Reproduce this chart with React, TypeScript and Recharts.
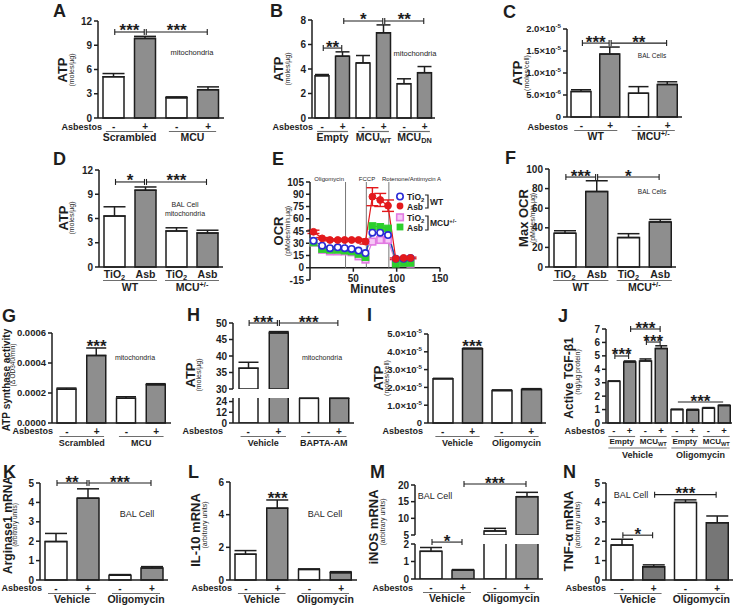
import React from "react";
import { BarChart, Bar, XAxis, YAxis, ErrorBar, Cell, ReferenceLine, ReferenceDot, LineChart, Line } from "recharts";

const FONT = '"Liberation Sans", Arial, sans-serif';
const INK = "#1e1e1e";
const GRAY = "#8e8e8e";
const RULE = "#6e6e6e";
const PAD_L = 64;
const PAD_T = 16;
const PAD_R = 16;
const PAD_B = 48;

// shared x labels
const signs = ["-", "+", "-", "+"];
const signs6 = ["-", "+", "-", "+", "-", "+"];
const signs8 = ["-", "+", "-", "+", "-", "+", "-", "+"];
const particles = ["TiO_{2}", "Asb", "TiO_{2}", "Asb"];
const shGroups = ["Scrambled", "MCU"];
const vectorGroups = ["Empty", "MCU_{WT}", "MCU_{DN}"];
const mouseGroups = ["WT", "MCU^{+/-}"];
const baptaGroups = ["Vehicle", "BAPTA-AM"];
const oligoGroups = ["Vehicle", "Oligomycin"];
const tgfVectors = ["Empty", "MCU_{WT}", "Empty", "MCU_{WT}"];

// A
const atpShMito = [5.1, 9.85, 2.5, 3.5];
const atpShMitoErr = [0.4, 0.25, 0.12, 0.35];
// B
const atpVectorMito = [3.45, 5.05, 4.5, 6.95, 2.8, 3.7];
const atpVectorMitoErr = [0.1, 0.35, 0.6, 0.65, 0.4, 0.5];
// C
const atpBal = [5.8e-6, 1.43e-5, 5.4e-6, 7.4e-6];
const atpBalErr = [0.4e-6, 1.6e-6, 1.5e-6, 0.6e-6];
// D
const atpBalMito = [6.3, 9.5, 4.45, 4.2];
const atpBalMitoErr = [1.15, 0.4, 0.4, 0.35];
// E
const minutes = [4, 14, 23, 32, 40, 48, 56, 64, 72, 81, 90, 99, 108, 116];
const ocrWtTio2 = [33, 27, 24, 25, 24, 23, 21, 18, 43, 43, 40, 11, 11, 12];
const ocrWtAsb = [44, 36, 34, 34, 34, 34, 34, 32, 87, 83, 76, 11, 12, 12];
const ocrWtAsbErr = [2, 1, 1, 1, 1, 1, 1, 3, 11, 8, 7, 1, 1, 1];
const ocrMcuTio2 = [31, 22, 20, 20, 20, 19, 14, 10, 32, 34, 34, 6, 6, 5];
const ocrMcuAsb = [31, 23, 22, 22, 21, 20, 17, 13, 51, 50, 48, 5, 6, 6];
const injections = [41, 65, 91];
// F
const maxOcr = [34.5, 77, 30, 46];
const maxOcrErr = [2.5, 11, 4, 2.5];
// G
const atpSynthase = [0.000225, 0.00045, 0.000165, 0.000255];
const atpSynthaseErr = [0.000008, 0.00005, 0.00001, 0.000007];
// H
const atpBapta = [36.3, 47, 27.6, 27.6];
const atpBaptaErr = [1.8, 0.4, 0.2, 0.2];
// I
const atpOligo = [2.48e-5, 4.17e-5, 1.82e-5, 1.88e-5];
const atpOligoErr = [0.03e-5, 0.04e-5, 0.04e-5, 0.05e-5];
// J
const tgfb1 = [3.1, 4.55, 4.62, 5.55, 1.0, 0.97, 1.1, 1.3];
const tgfb1Err = [0.03, 0.07, 0.15, 0.2, 0.02, 0.05, 0.05, 0.03];
// K-N
const arg1 = [1.98, 4.22, 0.25, 0.62];
const arg1Err = [0.42, 0.48, 0.03, 0.07];
const il10 = [1.58, 4.4, 0.65, 0.45];
const il10Err = [0.22, 0.5, 0.03, 0.06];
const inos = [1.58, 0.5, 6.2, 16.5];
const inosErr = [0.22, 0.04, 0.8, 1.3];
const tnfa = [1.8, 0.68, 4.0, 2.95];
const tnfaErr = [0.3, 0.1, 0.13, 0.35];

function rich(s: string, fs: number) {
  const parts = s.split(/([_^]\{[^}]*\})/).filter((x) => x.length > 0);
  let shift = 0;
  return parts.map((part, k) => {
    const m = /^([_^])\{(.*)\}$/.exec(part);
    if (m) {
      const target = m[1] === "_" ? fs * 0.28 : -fs * 0.34;
      const dy = target - shift;
      shift = target;
      return <tspan key={k} dy={dy} fontSize={fs * 0.7}>{m[2]}</tspan>;
    }
    const dy = -shift;
    shift = 0;
    return <tspan key={k} dy={dy}>{part}</tspan>;
  });
}

const plain = (v: number) => String(v);
const fixed4 = (v: number) => v.toFixed(4);
function sci(v: number, fs: number) {
  if (v === 0) return "0";
  const e = Math.floor(Math.log10(v) + 1e-9);
  const m = (v / Math.pow(10, e)).toFixed(1);
  return [
    <tspan key="m">{m + "×10"}</tspan>,
    <tspan key="e" dy={-fs * 0.42} fontSize={fs * 0.65}>{e}</tspan>,
  ];
}

function bracketShape(stars: string, ends: boolean) {
  return (p: any) => {
    const a = Math.min(p.x1, p.x2) + 1;
    const c = Math.max(p.x1, p.x2) - 1;
    const y = p.y1;
    return (
      <g>
        <line x1={a} x2={c} y1={y} y2={y} stroke={INK} strokeWidth={1.1} />
        {ends && <line x1={a} x2={a} y1={y - 3} y2={y + 3} stroke={INK} strokeWidth={1.1} />}
        {ends && <line x1={c} x2={c} y1={y - 3} y2={y + 3} stroke={INK} strokeWidth={1.1} />}
        <text x={(a + c) / 2} y={y + 4.5} textAnchor="middle" fontSize={17} fontWeight="bold" fill={INK}>
          {stars}
        </text>
      </g>
    );
  };
}

function starShape(text: string) {
  return (p: any) => (
    <text x={p.cx} y={p.cy + 4} textAnchor="middle" fontSize={17} fontWeight="bold" fill={INK}>
      {text}
    </text>
  );
}

function pairTick(box: number[], n: number, labels: string[], groups: string[], o: { named?: boolean; gfs?: number; half?: number } = {}) {
  const band = (box[1] - box[0]) / n;
  const base = PAD_T + box[3] - box[2];
  const lDy = o.named ? 10.5 : 12;
  const rDy = o.named ? 13.5 : 13.5;
  const gDy = o.named ? 23.5 : 22.5;
  const lfs = o.named ? 10.5 : 10;
  const gfs = o.gfs ?? 10;
  const half = (o.half ?? 0.75) * band;
  return (p: any) => {
    const i = p.index;
    const cx = p.x + band / 2;
    return (
      <g>
        <text x={p.x} y={base + lDy} textAnchor="middle" fontSize={lfs} fontWeight="bold" fill={INK}>
          {rich(labels[i], lfs)}
        </text>
        {i % 2 === 0 && <line x1={cx - half} x2={cx + half} y1={base + rDy} y2={base + rDy} stroke={RULE} strokeWidth={1.2} />}
        {i % 2 === 0 && (
          <text x={cx} y={base + gDy} textAnchor="middle" fontSize={gfs} fontWeight="bold" fill={INK}>
            {rich(groups[i / 2], gfs)}
          </text>
        )}
      </g>
    );
  };
}

function tgfTick(box: number[], n: number) {
  const band = (box[1] - box[0]) / n;
  const base = PAD_T + box[3] - box[2];
  return (p: any) => {
    const i = p.index;
    return (
      <g>
        <text x={p.x} y={base + 11} textAnchor="middle" fontSize={9.5} fontWeight="bold" fill={INK}>
          {signs8[i]}
        </text>
        {i % 2 === 0 && <line x1={p.x - band * 0.35} x2={p.x + band * 1.35} y1={base + 13.5} y2={base + 13.5} stroke={RULE} strokeWidth={1.1} />}
        {i % 2 === 0 && (
          <text x={p.x + band / 2} y={base + 21} textAnchor="middle" fontSize={8} fontWeight="bold" fill={INK}>
            {rich(tgfVectors[i / 2], 8)}
          </text>
        )}
        {i % 4 === 0 && <line x1={p.x - band * 0.35} x2={p.x + band * 3.35} y1={base + 25} y2={base + 25} stroke={RULE} strokeWidth={1.1} />}
        {i % 4 === 0 && (
          <text x={p.x + band * 1.5} y={base + 35} textAnchor="middle" fontSize={9} fontWeight="bold" fill={INK}>
            {oligoGroups[i / 4]}
          </text>
        )}
      </g>
    );
  };
}

type Bracket = { from: number; to: number; at: number; stars: string; ends?: boolean };

type BarPanelProps = {
  id: string;
  box: number[];
  domain: number[];
  ticks: number[];
  values: (number | null)[];
  errors: number[];
  barSize: number;
  fmt?: (v: number, fs: number) => any;
  tick?: (p: any) => any;
  brackets?: Bracket[];
  stars?: { bar: number; text: string }[];
  clip?: boolean;
  tickFs?: number;
  gray?: string;
};

function BarPanel(props: BarPanelProps) {
  const { id, box, domain, ticks, values, errors, barSize } = props;
  const [l, r, t, b] = box;
  const width = r - l + PAD_L + PAD_R;
  const height = b - t + PAD_T + PAD_B;
  const rows = values.map((v, i) => ({
    key: id + i,
    v,
    err: v == null || v > domain[1] ? null : [0, errors[i]],
  }));
  const tickFs = props.tickFs ?? 10;
  const fmt = props.fmt ?? plain;
  const showX = !!props.tick;
  return (
    <div style={{ position: "absolute", left: l - PAD_L, top: t - PAD_T }}>
      <BarChart width={width} height={height} data={rows} margin={{ top: PAD_T, right: PAD_R, left: 0, bottom: showX ? 0 : PAD_B }}>
        <XAxis
          dataKey="key"
          hide={!showX}
          height={PAD_B}
          interval={0}
          tickLine={false}
          axisLine={{ stroke: INK, strokeWidth: 1.5 }}
          tick={props.tick || false}
        />
        <YAxis
          type="number"
          domain={domain}
          ticks={ticks}
          interval={0}
          width={PAD_L}
          allowDataOverflow={!!props.clip}
          tickSize={4}
          tickLine={{ stroke: INK, strokeWidth: 1.5 }}
          axisLine={{ stroke: INK, strokeWidth: 1.5 }}
          tick={(p: any) => (
            <text x={p.x} y={p.y} dy={tickFs * 0.36} textAnchor="end" fontSize={tickFs} fontWeight="bold" fill={INK}>
              {fmt(p.payload.value, tickFs)}
            </text>
          )}
        />
        <Bar dataKey="v" barSize={barSize} stroke={INK} strokeWidth={1.5} isAnimationActive={false}>
          {rows.map((row, i) => (
            <Cell key={row.key} fill={i % 2 ? props.gray ?? GRAY : "#ffffff"} />
          ))}
          <ErrorBar dataKey="err" width={Math.round(barSize * 0.5)} stroke={INK} strokeWidth={1.5} direction="y" isAnimationActive={false} />
        </Bar>
        {(props.brackets ?? []).map((k, i) => (
          <ReferenceLine
            key={"b" + i}
            ifOverflow="visible"
            segment={[
              { x: id + k.from, y: k.at },
              { x: id + k.to, y: k.at },
            ]}
            shape={bracketShape(k.stars, k.ends !== false)}
          />
        ))}
        {(props.stars ?? []).map((s, i) => (
          <ReferenceDot
            key={"s" + i}
            ifOverflow="visible"
            x={id + s.bar}
            y={(values[s.bar] as number) + errors[s.bar]}
            r={0}
            shape={starShape(s.text)}
          />
        ))}
      </BarChart>
    </div>
  );
}

const ocrColors = { wtTio2: "#2a2ad6", wtAsb: "#e3191c", mcuTio2: "#e27ae2", mcuAsb: "#2ccf2c" };

const openCircle = (c: string) => (p: any) => <circle key={"oc" + p.index} cx={p.cx} cy={p.cy} r={3.2} fill="#fff" stroke={c} strokeWidth={1.6} />;
const fullCircle = (c: string) => (p: any) => <circle key={"fc" + p.index} cx={p.cx} cy={p.cy} r={3.4} fill={c} stroke={c} strokeWidth={1} />;
const openSquare = (c: string) => (p: any) => (
  <rect key={"os" + p.index} x={p.cx - 3.3} y={p.cy - 3.3} width={6.6} height={6.6} fill="#f6c8f6" stroke={c} strokeWidth={1.6} />
);
const fullSquare = (c: string) => (p: any) => (
  <rect key={"fs" + p.index} x={p.cx - 3.4} y={p.cy - 3.4} width={6.8} height={6.8} fill={c} stroke={c} strokeWidth={1} />
);

const eBox = [310, 440, 182, 280];

function OcrPanel() {
  const [l, r, t, b] = eBox;
  const width = r - l + PAD_L + PAD_R;
  const height = b - t + PAD_T + PAD_B;
  const zeroY = PAD_T + (b - t) * (105 / 120);
  const rows = minutes.map((m, i) => ({
    t: m,
    wtTio2: ocrWtTio2[i],
    wtAsb: ocrWtAsb[i],
    wtAsbErr: ocrWtAsbErr[i],
    mcuTio2: ocrMcuTio2[i],
    mcuAsb: ocrMcuAsb[i],
  }));
  return (
    <div style={{ position: "absolute", left: l - PAD_L, top: t - PAD_T }}>
      <LineChart width={width} height={height} data={rows} margin={{ top: PAD_T, right: PAD_R, left: 0, bottom: 0 }}>
        <XAxis
          type="number"
          dataKey="t"
          domain={[0, 150]}
          ticks={[50, 100, 150]}
          height={PAD_B}
          axisLine={false}
          tickLine={false}
          tick={(p: any) => (
            <g>
              <line x1={p.x} x2={p.x} y1={zeroY} y2={zeroY + 4} stroke={INK} strokeWidth={1.5} />
              <text x={p.x} y={zeroY + 14} textAnchor="middle" fontSize={10} fontWeight="bold" fill={INK}>
                {p.payload.value}
              </text>
            </g>
          )}
        />
        <YAxis
          type="number"
          domain={[-15, 105]}
          ticks={[-15, 0, 15, 30, 45, 60, 75, 90, 105]}
          interval={0}
          width={PAD_L}
          tickSize={4}
          tickLine={{ stroke: INK, strokeWidth: 1.5 }}
          axisLine={{ stroke: INK, strokeWidth: 1.5 }}
          tick={(p: any) => (
            <text x={p.x} y={p.y} dy={3.6} textAnchor="end" fontSize={10} fontWeight="bold" fill={INK}>
              {p.payload.value}
            </text>
          )}
        />
        <ReferenceLine y={0} stroke={INK} strokeWidth={1.5} />
        {injections.map((m) => (
          <ReferenceLine
            key={m}
            segment={[
              { x: m, y: 0 },
              { x: m, y: 105 },
            ]}
            stroke="#777"
            strokeWidth={1}
          />
        ))}
        <Line dataKey="mcuTio2" stroke={ocrColors.mcuTio2} strokeWidth={1.2} dot={openSquare(ocrColors.mcuTio2)} isAnimationActive={false} />
        <Line dataKey="mcuAsb" stroke={ocrColors.mcuAsb} strokeWidth={1.2} dot={fullSquare(ocrColors.mcuAsb)} isAnimationActive={false} />
        <Line dataKey="wtTio2" stroke={ocrColors.wtTio2} strokeWidth={1.2} dot={openCircle(ocrColors.wtTio2)} isAnimationActive={false} />
        <Line dataKey="wtAsb" stroke={ocrColors.wtAsb} strokeWidth={1.2} dot={fullCircle(ocrColors.wtAsb)} isAnimationActive={false}>
          <ErrorBar dataKey="wtAsbErr" width={6} stroke={ocrColors.wtAsb} strokeWidth={1.4} direction="y" isAnimationActive={false} />
        </Line>
      </LineChart>
    </div>
  );
}

type Note = { x: number; y: number; text: string; fs: number; bold?: boolean; anchor?: "start" | "middle" | "end"; rotate?: boolean };

const notes: Note[] = [
  // panel letters
  { x: 53, y: 17, text: "A", fs: 18, bold: true },
  { x: 270, y: 17, text: "B", fs: 18, bold: true },
  { x: 503, y: 18, text: "C", fs: 18, bold: true },
  { x: 53, y: 165, text: "D", fs: 18, bold: true },
  { x: 272, y: 165, text: "E", fs: 18, bold: true },
  { x: 505, y: 164, text: "F", fs: 18, bold: true },
  { x: 2, y: 322, text: "G", fs: 18, bold: true },
  { x: 187, y: 321, text: "H", fs: 18, bold: true },
  { x: 367, y: 321, text: "I", fs: 18, bold: true },
  { x: 558, y: 322, text: "J", fs: 18, bold: true },
  { x: 3, y: 478, text: "K", fs: 18, bold: true },
  { x: 188, y: 478, text: "L", fs: 18, bold: true },
  { x: 370, y: 478, text: "M", fs: 18, bold: true },
  { x: 563, y: 478, text: "N", fs: 18, bold: true },
  // y titles
  { x: 67, y: 70, text: "ATP", fs: 13, bold: true, anchor: "middle", rotate: true },
  { x: 74, y: 70, text: "(moles/µg)", fs: 7, anchor: "middle", rotate: true },
  { x: 283, y: 69, text: "ATP", fs: 13, bold: true, anchor: "middle", rotate: true },
  { x: 290, y: 69, text: "(moles/µg)", fs: 7, anchor: "middle", rotate: true },
  { x: 522, y: 73, text: "ATP", fs: 13, bold: true, anchor: "middle", rotate: true },
  { x: 529, y: 73, text: "(moles/cell)", fs: 7, anchor: "middle", rotate: true },
  { x: 68, y: 218, text: "ATP", fs: 13, bold: true, anchor: "middle", rotate: true },
  { x: 74, y: 218, text: "(moles/µg)", fs: 7, anchor: "middle", rotate: true },
  { x: 283, y: 231, text: "OCR", fs: 13, bold: true, anchor: "middle", rotate: true },
  { x: 290, y: 231, text: "(pMoles/min.µg)", fs: 7, anchor: "middle", rotate: true },
  { x: 528, y: 218, text: "Max OCR", fs: 13, bold: true, anchor: "middle", rotate: true },
  { x: 535, y: 218, text: "(pMoles/min.µg)", fs: 7, anchor: "middle", rotate: true },
  { x: 10, y: 380, text: "ATP synthase activity", fs: 10, bold: true, anchor: "middle", rotate: true },
  { x: 15, y: 365, text: "(Δ OD340/min)", fs: 6.5, anchor: "middle", rotate: true },
  { x: 195, y: 375, text: "ATP", fs: 13, bold: true, anchor: "middle", rotate: true },
  { x: 201, y: 375, text: "(moles/µg)", fs: 7, anchor: "middle", rotate: true },
  { x: 383, y: 378, text: "ATP", fs: 13, bold: true, anchor: "middle", rotate: true },
  { x: 389, y: 378, text: "(moles/cell)", fs: 7, anchor: "middle", rotate: true },
  { x: 573, y: 378, text: "Active TGF-β1", fs: 12, bold: true, anchor: "middle", rotate: true },
  { x: 580, y: 372, text: "(ng/µg protein)", fs: 7, anchor: "middle", rotate: true },
  { x: 12, y: 525, text: "Arginase1 mRNA", fs: 12, bold: true, anchor: "middle", rotate: true },
  { x: 17, y: 525, text: "(arbitrary units)", fs: 6.5, anchor: "middle", rotate: true },
  { x: 200, y: 530, text: "IL-10 mRNA", fs: 13, bold: true, anchor: "middle", rotate: true },
  { x: 207, y: 525, text: "(arbitrary units)", fs: 7, anchor: "middle", rotate: true },
  { x: 378, y: 527, text: "iNOS mRNA", fs: 13, bold: true, anchor: "middle", rotate: true },
  { x: 385, y: 522, text: "(arbitrary units)", fs: 7, anchor: "middle", rotate: true },
  { x: 573, y: 531, text: "TNF-α mRNA", fs: 13, bold: true, anchor: "middle", rotate: true },
  { x: 580, y: 525, text: "(arbitrary units)", fs: 7, anchor: "middle", rotate: true },
  // in-plot annotations
  { x: 192, y: 55, text: "mitochondria", fs: 7.5, anchor: "middle" },
  { x: 415, y: 56, text: "mitochondria", fs: 7.5, anchor: "middle" },
  { x: 652, y: 58, text: "BAL Cells", fs: 6.5, anchor: "middle" },
  { x: 185, y: 207, text: "BAL Cell", fs: 7, anchor: "middle" },
  { x: 185, y: 216, text: "mitochondria", fs: 7, anchor: "middle" },
  { x: 652, y: 194, text: "BAL Cells", fs: 6.5, anchor: "middle" },
  { x: 135, y: 360, text: "mitochondria", fs: 7, anchor: "middle" },
  { x: 322, y: 360, text: "mitochondria", fs: 7, anchor: "middle" },
  { x: 137, y: 517, text: "BAL Cell", fs: 9, anchor: "middle" },
  { x: 325, y: 517, text: "BAL Cell", fs: 9, anchor: "middle" },
  { x: 435, y: 499, text: "BAL Cell", fs: 9, anchor: "middle" },
  { x: 631, y: 498, text: "BAL Cell", fs: 9, anchor: "middle" },
  { x: 344, y: 181, text: "Oligomycin", fs: 6, anchor: "end" },
  { x: 367, y: 181, text: "FCCP", fs: 6, anchor: "middle" },
  { x: 382, y: 181, text: "Rotenone/Antimycin A", fs: 6, anchor: "start" },
  { x: 373, y: 293, text: "Minutes", fs: 12, bold: true, anchor: "middle" },
  // Asbestos row titles
  { x: 102, y: 130, text: "Asbestos", fs: 9, bold: true, anchor: "end" },
  { x: 313, y: 130, text: "Asbestos", fs: 9, bold: true, anchor: "end" },
  { x: 568, y: 130, text: "Asbestos", fs: 9, bold: true, anchor: "end" },
  { x: 53, y: 434, text: "Asbestos", fs: 9, bold: true, anchor: "end" },
  { x: 223, y: 434, text: "Asbestos", fs: 9, bold: true, anchor: "end" },
  { x: 423, y: 434, text: "Asbestos", fs: 9, bold: true, anchor: "end" },
  { x: 605, y: 434, text: "Asbestos", fs: 9, bold: true, anchor: "end" },
  { x: 42, y: 591, text: "Asbestos", fs: 9, bold: true, anchor: "end" },
  { x: 232, y: 591, text: "Asbestos", fs: 9, bold: true, anchor: "end" },
  { x: 413, y: 591, text: "Asbestos", fs: 9, bold: true, anchor: "end" },
  { x: 606, y: 591, text: "Asbestos", fs: 9, bold: true, anchor: "end" },
];

function OcrLegend() {
  const c = ocrColors;
  return (
    <g fontWeight="bold" fontSize={8.5} fill={INK}>
      <circle cx={400} cy={196.5} r={3.2} fill="#fff" stroke={c.wtTio2} strokeWidth={1.6} />
      <text x={407} y={199.5}>{rich("TiO_{2}", 8.5)}</text>
      <circle cx={400} cy={206} r={3.4} fill={c.wtAsb} />
      <text x={407} y={209.5}>Asb</text>
      <path d="M425 195 H428 V208 H425" fill="none" stroke={INK} strokeWidth={1.2} />
      <text x={430} y={205}>WT</text>
      <rect x={396.7} y={214} width={6.6} height={6.6} fill="#f6c8f6" stroke={c.mcuTio2} strokeWidth={1.6} />
      <text x={407} y={220.5}>{rich("TiO_{2}", 8.5)}</text>
      <rect x={396.6} y={223.6} width={6.8} height={6.8} fill={c.mcuAsb} />
      <text x={407} y={230.5}>Asb</text>
      <path d="M425 216 H428 V230 H425" fill="none" stroke={INK} strokeWidth={1.2} />
      <text x={430} y={226}>{rich("MCU^{+/-}", 8.5)}</text>
    </g>
  );
}

export default function App() {
  const aBox = [98, 224, 21, 118];
  const bBox = [312, 435, 20, 118];
  const cBox = [567, 682, 29, 117];
  const dBox = [99, 223, 170, 267];
  const fBox = [549, 676, 169, 267];
  const gBox = [52, 171, 333, 423];
  const hTop = [233, 354, 323, 389];
  const hBot = [233, 354, 398, 423];
  const iBox = [428, 546, 334, 423];
  const jBox = [606, 732, 329, 423];
  const kBox = [40, 168, 483, 580];
  const lBox = [230, 357, 482, 580];
  const mTop = [415, 543, 485, 535];
  const mBot = [415, 543, 544, 579];
  const nBox = [606, 733, 483, 580];
  return (
    <div style={{ position: "absolute", left: 0, top: 0, width: 736, height: 608, background: "#fff", fontFamily: FONT, overflow: "hidden" }}>
      <BarPanel
        id="a"
        box={aBox}
        domain={[0, 12]}
        ticks={[0, 3, 6, 9, 12]}
        values={atpShMito}
        errors={atpShMitoErr}
        barSize={21}
        tick={pairTick(aBox, 4, signs, shGroups, { gfs: 10.5 })}
        brackets={[
          { from: 0, to: 1, at: 10.64, stars: "***" },
          { from: 1, to: 3, at: 10.64, stars: "***" },
        ]}
      />
      <BarPanel
        id="b"
        box={bBox}
        domain={[0, 8]}
        ticks={[0, 2, 4, 6, 8]}
        values={atpVectorMito}
        errors={atpVectorMitoErr}
        barSize={14}
        tick={pairTick(bBox, 6, signs6, vectorGroups, { gfs: 10.5 })}
        brackets={[
          { from: 0, to: 1, at: 5.71, stars: "**" },
          { from: 1, to: 3, at: 7.92, stars: "*" },
          { from: 3, to: 5, at: 7.92, stars: "**" },
        ]}
      />
      <BarPanel
        id="c"
        box={cBox}
        domain={[0, 2e-5]}
        ticks={[0, 5e-6, 1e-5, 1.5e-5, 2e-5]}
        fmt={sci}
        tickFs={9.5}
        values={atpBal}
        errors={atpBalErr}
        barSize={20}
        tick={pairTick(cBox, 4, signs, mouseGroups, { gfs: 10.5 })}
        brackets={[
          { from: 0, to: 1, at: 1.68e-5, stars: "***" },
          { from: 1, to: 3, at: 1.68e-5, stars: "**" },
        ]}
      />
      <BarPanel
        id="d"
        box={dBox}
        domain={[0, 12]}
        ticks={[0, 3, 6, 9, 12]}
        values={atpBalMito}
        errors={atpBalMitoErr}
        barSize={21}
        tick={pairTick(dBox, 4, particles, mouseGroups, { named: true, gfs: 10.5, half: 0.87 })}
        brackets={[
          { from: 0, to: 1, at: 10.52, stars: "*" },
          { from: 1, to: 3, at: 10.52, stars: "***" },
        ]}
      />
      <OcrPanel />
      <BarPanel
        id="f"
        box={fBox}
        domain={[0, 100]}
        ticks={[0, 20, 40, 60, 80, 100]}
        values={maxOcr}
        errors={maxOcrErr}
        barSize={22}
        tick={pairTick(fBox, 4, particles, mouseGroups, { named: true, gfs: 10.5, half: 0.87 })}
        brackets={[
          { from: 0, to: 1, at: 91.8, stars: "***" },
          { from: 1, to: 3, at: 91.8, stars: "*" },
        ]}
      />
      <BarPanel
        id="g"
        box={gBox}
        domain={[0, 0.0006]}
        ticks={[0, 0.0002, 0.0004, 0.0006]}
        fmt={fixed4}
        tickFs={9.5}
        values={atpSynthase}
        errors={atpSynthaseErr}
        barSize={19}
        tick={pairTick(gBox, 4, signs, shGroups, { gfs: 9 })}
        stars={[{ bar: 1, text: "***" }]}
      />
      <BarPanel
        id="ht"
        box={hTop}
        domain={[30, 50]}
        ticks={[30, 35, 40, 45, 50]}
        values={atpBapta.map((v) => (v > 30 ? v : null))}
        errors={atpBaptaErr}
        barSize={19}
        clip
        brackets={[
          { from: 0, to: 1, at: 50, stars: "***" },
          { from: 1, to: 3, at: 50, stars: "***" },
        ]}
      />
      <BarPanel
        id="hb"
        box={hBot}
        domain={[0, 28]}
        ticks={[0, 12, 24]}
        values={atpBapta}
        errors={atpBaptaErr}
        barSize={19}
        clip
        tick={pairTick(hBot, 4, signs, baptaGroups, { gfs: 9 })}
      />
      <BarPanel
        id="i"
        box={iBox}
        domain={[0, 5e-5]}
        ticks={[0, 1e-5, 2e-5, 3e-5, 4e-5, 5e-5]}
        fmt={sci}
        tickFs={9.5}
        values={atpOligo}
        errors={atpOligoErr}
        barSize={20}
        tick={pairTick(iBox, 4, signs, oligoGroups, { gfs: 9 })}
        stars={[{ bar: 1, text: "***" }]}
      />
      <BarPanel
        id="j"
        box={jBox}
        domain={[0, 7]}
        ticks={[0, 1, 2, 3, 4, 5, 6, 7]}
        values={tgfb1}
        errors={tgfb1Err}
        barSize={12}
        tick={tgfTick(jBox, 8)}
        brackets={[
          { from: 0, to: 1, at: 4.99, stars: "***" },
          { from: 1, to: 3, at: 7.0, stars: "***" },
          { from: 2, to: 3, at: 6.03, stars: "***" },
          { from: 4, to: 7, at: 1.56, stars: "***", ends: false },
        ]}
      />
      <BarPanel
        id="k"
        box={kBox}
        domain={[0, 5]}
        ticks={[0, 1, 2, 3, 4, 5]}
        values={arg1}
        errors={arg1Err}
        barSize={22}
        tick={pairTick(kBox, 4, signs, oligoGroups, { gfs: 10.5 })}
        brackets={[
          { from: 0, to: 1, at: 5.0, stars: "**" },
          { from: 1, to: 3, at: 5.0, stars: "***" },
        ]}
      />
      <BarPanel
        id="l"
        box={lBox}
        domain={[0, 6]}
        ticks={[0, 2, 4, 6]}
        values={il10}
        errors={il10Err}
        barSize={21}
        tick={pairTick(lBox, 4, signs, oligoGroups, { gfs: 10.5 })}
        stars={[{ bar: 1, text: "***" }]}
      />
      <BarPanel
        id="mt"
        box={mTop}
        domain={[5, 20]}
        ticks={[5, 10, 15, 20]}
        values={inos.map((v) => (v > 5 ? v : null))}
        errors={inosErr}
        barSize={22}
        gray="#959595"
        clip
        brackets={[{ from: 1, to: 3, at: 20.3, stars: "***" }]}
      />
      <BarPanel
        id="mb"
        box={mBot}
        domain={[0, 2]}
        ticks={[0, 1, 2]}
        values={inos}
        errors={inosErr}
        barSize={22}
        gray="#959595"
        clip
        tick={pairTick(mBot, 4, signs, oligoGroups, { gfs: 10.5 })}
        brackets={[{ from: 0, to: 1, at: 2.11, stars: "*" }]}
      />
      <BarPanel
        id="n"
        box={nBox}
        domain={[0, 5]}
        ticks={[0, 1, 2, 3, 4, 5]}
        values={tnfa}
        errors={tnfaErr}
        barSize={22}
        gray="#767676"
        tick={pairTick(nBox, 4, signs, oligoGroups, { gfs: 10.5 })}
        brackets={[
          { from: 0, to: 1, at: 2.31, stars: "*" },
          { from: 1, to: 3, at: 4.4, stars: "***" },
        ]}
      />
      <svg width={736} height={608} style={{ position: "absolute", left: 0, top: 0, pointerEvents: "none" }}>
        {notes.map((n, i) => (
          <text
            key={i}
            x={n.rotate ? 0 : n.x}
            y={n.rotate ? 0 : n.y}
            transform={n.rotate ? `translate(${n.x},${n.y}) rotate(-90)` : undefined}
            fontSize={n.fs}
            fontWeight={n.bold ? "bold" : "normal"}
            textAnchor={n.anchor ?? "start"}
            fill={INK}
          >
            {n.text}
          </text>
        ))}
        <OcrLegend />
      </svg>
    </div>
  );
}
